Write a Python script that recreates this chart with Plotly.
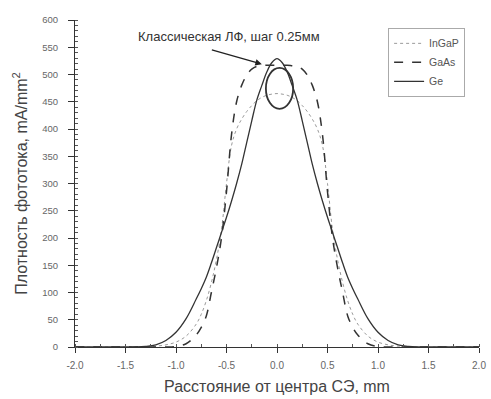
import plotly.graph_objects as go

# Distance from cell centre, mm
x_half = [0.0, 0.05, 0.1, 0.15, 0.2, 0.25, 0.3, 0.35, 0.4, 0.45, 0.5, 0.55, 0.6,
          0.65, 0.7, 0.75, 0.8, 0.9, 1.0, 1.1, 1.2, 1.3, 1.4, 1.5, 1.6, 1.8, 2.0]

# Photocurrent density, mA/mm^2 (symmetric halves)
ingap_half = [465, 464, 462, 458, 452, 443, 432, 418, 400, 370, 300, 215, 160,
              118, 85, 60, 42, 20, 9, 4, 1.5, 0.5, 0, 0, 0, 0, 0]
gaas_half = [517, 517, 517, 516, 515, 510, 499, 480, 450, 390, 285, 200, 145,
             100, 57, 36, 22, 6, 1, 0, 0, 0, 0, 0, 0, 0, 0]
ge_half = [529, 522, 505, 480, 453, 415, 375, 335, 300, 268, 238, 210, 182,
           154, 128, 107, 88, 52, 27, 12, 4, 1, 0, 0, 0, 0, 0]

x = [-v for v in x_half[:0:-1]] + x_half
ingap = ingap_half[:0:-1] + ingap_half
gaas = gaas_half[:0:-1] + gaas_half
ge = ge_half[:0:-1] + ge_half

x_ticks = [-2.0, -1.5, -1.0, -0.5, 0.0, 0.5, 1.0, 1.5, 2.0]
x_tick_labels = ["-2.0", "-1.5", "-1.0", "-0.5", "0.0", "0.5", "1.0", "1.5", "2.0"]
y_ticks = list(range(0, 601, 50))

fig = go.Figure()
fig.add_trace(go.Scatter(x=x, y=ingap, name="InGaP", mode="lines", line_shape="spline",
                         line=dict(color="#9a9a9a", width=1, dash="dot")))
fig.add_trace(go.Scatter(x=x, y=gaas, name="GaAs", mode="lines", line_shape="spline",
                         line=dict(color="#333333", width=1.5, dash="dash")))
fig.add_trace(go.Scatter(x=x, y=ge, name="Ge", mode="lines", line_shape="spline",
                         line=dict(color="#333333", width=1.3)))

# oval around the peak
fig.add_shape(type="circle", xref="x", yref="y", x0=-0.11, x1=0.16, y0=437, y1=512,
              line=dict(color="#333333", width=1.8))

fig.add_annotation(x=-0.15, y=519, ax=-0.66, ay=546, xref="x", yref="y", axref="x", ayref="y",
                   text="", showarrow=True, arrowhead=2, arrowsize=1, arrowwidth=1.3,
                   arrowcolor="#222222")
fig.add_annotation(x=-0.48, y=569, xref="x", yref="y", text="Классическая ЛФ, шаг 0.25мм",
                   showarrow=False, font=dict(size=13, color="#333333"))

fig.update_layout(
    width=491, height=399,
    margin=dict(l=75, r=12, t=20, b=52),
    paper_bgcolor="white", plot_bgcolor="white",
    font=dict(family="Liberation Sans, Arial, sans-serif", color="#555555"),
    showlegend=True,
    legend=dict(x=0.775, y=0.976, xanchor="left", yanchor="top",
                bgcolor="white", bordercolor="#aaaaaa", borderwidth=1,
                font=dict(size=10.5, color="#555555"), tracegroupgap=0,
                itemwidth=30),
)
fig.update_xaxes(range=[-2.0, 2.0], tickvals=x_ticks, ticktext=x_tick_labels, automargin=False,
                 showgrid=False, zeroline=False, showline=True, linecolor="#333333", linewidth=1,
                 ticks="outside", ticklen=5, tickcolor="#333333", tickfont=dict(size=10, color="#666666"),
                 minor=dict(dtick=0.25, ticks="inside", ticklen=3, tickcolor="#555555"),
                 ticklabelstandoff=4,
                 title=dict(text="Расстояние от центра СЭ, mm", font=dict(size=16, color="#444444"), standoff=10))
fig.update_yaxes(range=[0, 600], tickvals=y_ticks, automargin=False,
                 showgrid=False, zeroline=False, showline=True, linecolor="#333333", linewidth=1,
                 ticks="outside", ticklen=6, tickcolor="#333333", tickfont=dict(size=9.5, color="#666666"),
                 minor=dict(dtick=10, ticks="inside", ticklen=3, tickcolor="#555555"),
                 ticklabelstandoff=8,
                 title=dict(text="Плотность фототока, mA/mm<sup>2</sup>", font=dict(size=16, color="#444444"), standoff=10))

fig.write_html("out.html")
